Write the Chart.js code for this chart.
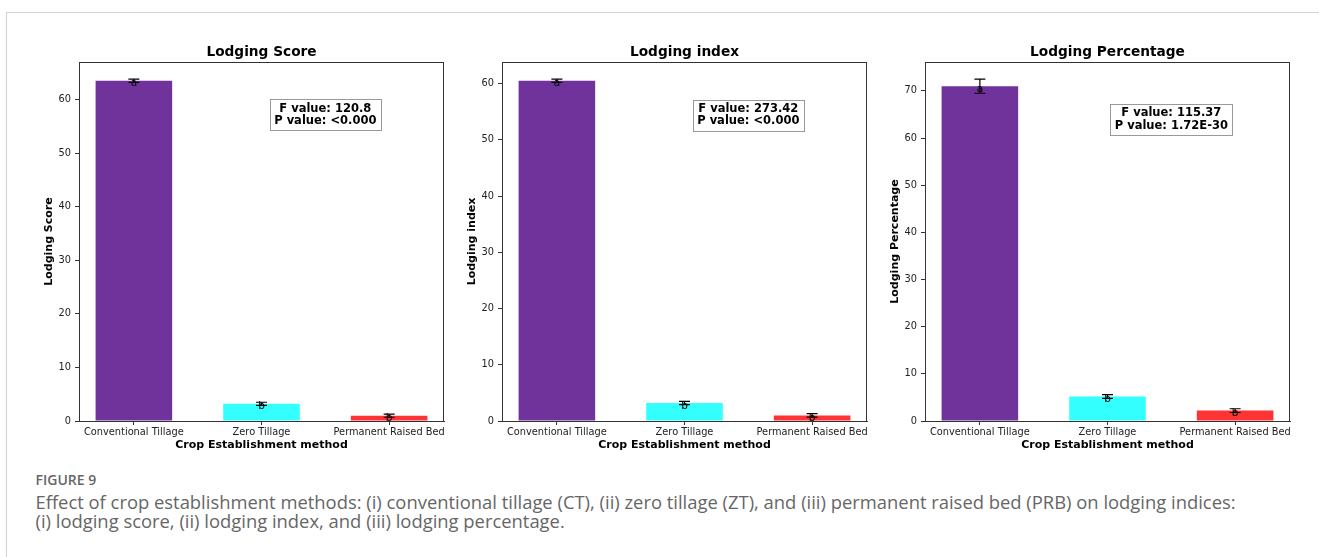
<!DOCTYPE html>
<html>
<head>
<meta charset="utf-8">
<script src="https://cdn.jsdelivr.net/npm/chart.js@4.4.0/dist/chart.umd.min.js"></script>
<style>
  html, body { margin: 0; padding: 0; background: #fff; width: 1319px; height: 557px; overflow: hidden; }
  .frame { position: absolute; left: 6px; top: 12px; width: 1400px; height: 600px;
           border-top: 1px solid #d2d2d2; border-left: 1px solid #d2d2d2; }
  .panel { position: absolute; top: 30px; width: 450px; height: 440px; }
  .fig-label { position: absolute; left: 35.5px; top: 472.6px; font-family: "Open Sans", sans-serif;
               font-size: 14px; line-height: 14px; font-weight: 600; color: #666; }
  .caption { position: absolute; left: 35.5px; top: 492.4px; width: 1270px; font-family: "Open Sans", sans-serif;
             font-size: 18.4px; line-height: 19px; color: #666; white-space: nowrap; }
</style>
</head>
<body>
<div class="frame"></div>
<div class="panel" style="left:10px"><canvas id="scoreChart" width="450" height="440"></canvas></div>
<div class="panel" style="left:433px"><canvas id="indexChart" width="450" height="440"></canvas></div>
<div class="panel" style="left:856px"><canvas id="percentChart" width="450" height="440"></canvas></div>
<div class="fig-label">FIGURE 9</div>
<div class="caption">Effect of crop establishment methods: (i) conventional tillage (CT), (ii) zero tillage (ZT), and (iii) permanent raised bed (PRB) on lodging indices:<br>(i) lodging score, (ii) lodging index, and (iii) lodging percentage.</div>

<script>
// Crop establishment methods on the x axis
const categories = ['Conventional Tillage', 'Zero Tillage', 'Permanent Raised Bed'];

// Lodging score: means and standard errors
const scoreMeans  = [63.5, 3.2, 1.0];
const scoreErrors = [0.3, 0.3, 0.3];

// Lodging index: means and standard errors
const indexMeans  = [60.5, 3.2, 1.0];
const indexErrors = [0.3, 0.3, 0.3];

// Lodging percentage: means and standard errors
const percentMeans  = [71.0, 5.2, 2.2];
const percentErrors = [1.5, 0.4, 0.4];

// Significance groups shown over each bar
const groupLetters = ['a', 'b', 'b'];

// ANOVA results per panel
const fValues = ['120.8', '273.42', '115.37'];
const pValues = ['<0.000', '<0.000', '1.72E-30'];

const barColors = ['rgba(75,0,130,0.8)', 'rgba(0,255,255,0.8)', 'rgba(255,0,0,0.8)'];
const FONT = 'DejaVu Sans';

// Draws the axes box, error bars, group letters and the ANOVA text box
const barMarks = {
  id: 'barMarks',
  afterDatasetsDraw(chart, args, opts) {
    const { ctx, chartArea: a, scales: { x, y } } = chart;
    ctx.save();

    // full axes frame
    ctx.strokeStyle = '#333';
    ctx.lineWidth = 1;
    ctx.strokeRect(Math.round(a.left) + 0.5, Math.round(a.top) + 0.5,
                   Math.round(a.right - a.left) - 1, Math.round(a.bottom - a.top));

    // error bars
    ctx.strokeStyle = '#000';
    ctx.lineWidth = 1.2;
    opts.means.forEach((m, i) => {
      const px = x.getPixelForValue(i);
      const yTop = y.getPixelForValue(m + opts.errors[i]);
      const yBot = y.getPixelForValue(m - opts.errors[i]);
      ctx.beginPath();
      ctx.moveTo(px, yTop); ctx.lineTo(px, yBot);
      ctx.moveTo(px - 5.5, yTop); ctx.lineTo(px + 5.5, yTop);
      ctx.moveTo(px - 5.5, yBot); ctx.lineTo(px + 5.5, yBot);
      ctx.stroke();
    });

    // group letters
    ctx.fillStyle = '#000';
    ctx.font = '10.5px "' + FONT + '"';
    ctx.textAlign = 'center';
    ctx.textBaseline = 'alphabetic';
    opts.means.forEach((m, i) => {
      ctx.fillText(opts.letters[i], x.getPixelForValue(i), y.getPixelForValue(m) + 5.5);
    });

    // ANOVA box
    ctx.font = 'bold 11.5px "' + FONT + '"';
    const lines = opts.stat;
    const w = Math.max(...lines.map(t => ctx.measureText(t).width)) + 9;
    const h = 30.5;
    const cx = x.getPixelForValue(1.5);
    const cy = y.getPixelForValue(0.9 * Math.max(...opts.means));
    ctx.fillStyle = '#fff';
    ctx.fillRect(cx - w / 2, cy - h / 2, w, h);
    ctx.strokeStyle = '#999';
    ctx.lineWidth = 1;
    ctx.strokeRect(Math.round(cx - w / 2) + 0.5, Math.round(cy - h / 2) + 0.5, Math.round(w), Math.round(h));
    ctx.fillStyle = '#000';
    ctx.textBaseline = 'middle';
    ctx.fillText(lines[0], cx, cy - 6.2);
    ctx.fillText(lines[1], cx, cy + 6.2);

    ctx.restore();
  }
};

function makePanel(id, title, yLabel, means, errors, fText, pText) {
  const yMax = Math.max(...means.map((m, i) => m + errors[i])) * 1.05;
  return new Chart(document.getElementById(id), {
    type: 'bar',
    data: {
      datasets: [{
        data: means.map((m, i) => ({ x: i, y: m })),
        backgroundColor: barColors,
        borderWidth: 0,
        barPercentage: 0.6,
        categoryPercentage: 1
      }]
    },
    options: {
      responsive: false,
      animation: false,
      devicePixelRatio: 1,
      layout: { padding: { left: 0, right: 16, top: 0, bottom: 0 } },
      plugins: {
        legend: { display: false },
        tooltip: { enabled: false },
        title: {
          display: true, text: title, color: '#000', fullSize: false,
          font: { family: FONT, size: 13.7, weight: 'bold' },
          padding: { top: 14.3, bottom: 1.26 }
        },
        barMarks: { means, errors, letters: groupLetters, stat: ['F value: ' + fText, 'P value: ' + pText] }
      },
      scales: {
        x: {
          type: 'linear', min: -0.43, max: 2.43, offset: false,
          afterBuildTicks: s => { s.ticks = categories.map((c, i) => ({ value: i })); },
          afterFit: s => { s.height = 49; },
          ticks: {
            callback: v => categories[v], autoSkip: false, maxRotation: 0,
            font: { family: FONT, size: 9.8 }, color: '#222', padding: 2
          },
          grid: { drawOnChartArea: false, drawTicks: true, tickLength: 4, color: '#333', offset: false },
          border: { color: '#333' },
          title: {
            display: true, text: 'Crop Establishment method', color: '#000',
            font: { family: FONT, size: 11, weight: 'bold' },
            padding: { top: 0, bottom: 17.8 }
          }
        },
        y: {
          min: 0, max: yMax,
          afterFit: s => { s.width = 69; },
          ticks: {
            stepSize: 10, includeBounds: false,
            font: { family: FONT, size: 9.8 }, color: '#222', padding: 4
          },
          grid: { drawOnChartArea: false, drawTicks: true, tickLength: 4, color: '#333' },
          border: { color: '#333' },
          title: {
            display: true, text: yLabel, color: '#000',
            font: { family: FONT, size: 11, weight: 'bold' },
            padding: { top: 32.7, bottom: 0 }
          }
        }
      }
    },
    plugins: [barMarks]
  });
}

makePanel('scoreChart', 'Lodging Score', 'Lodging Score', scoreMeans, scoreErrors, fValues[0], pValues[0]);
makePanel('indexChart', 'Lodging index', 'Lodging index', indexMeans, indexErrors, fValues[1], pValues[1]);
makePanel('percentChart', 'Lodging Percentage', 'Lodging Percentage', percentMeans, percentErrors, fValues[2], pValues[2]);
</script>
</body>
</html>
